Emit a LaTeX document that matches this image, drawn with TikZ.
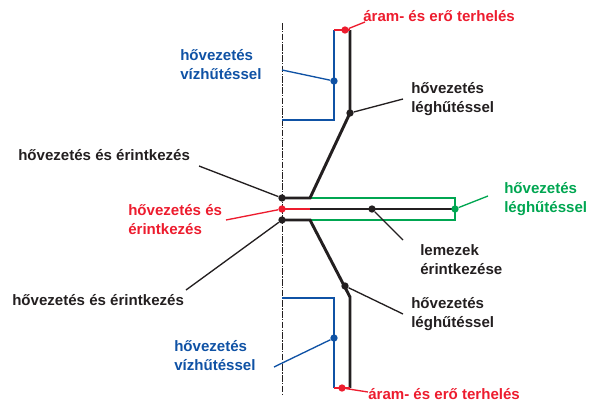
\documentclass[tikz,border=0pt]{standalone}
\usepackage{fontspec}
\setmainfont{Liberation Sans}
\usepackage{tikz}
\usetikzlibrary{positioning}
\definecolor{hblue}{HTML}{0F52A5}
\definecolor{hred}{HTML}{ED1C2E}
\definecolor{hgreen}{HTML}{00A651}
\definecolor{hblack}{HTML}{231F20}
\tikzset{
    lbl/.style={font=\fontsize{11.3}{14.25}\selectfont\bfseries, inner sep=0pt, align=left, anchor=west},
    wall/.style={line width=2.2pt, line join=miter},
    leader/.style={line width=1pt},
    dot/.style={circle, fill, inner sep=0pt, minimum size=5.5pt},
}

\begin{document}
\begin{tikzpicture}[x=0.75pt, y=-0.75pt]
    \useasboundingbox (0,0) rectangle (597,407);

    % axis
    \draw[hblack, line width=0.7pt, dash pattern=on 5pt off 1pt on 1pt off 1pt] (282,23) -- (282,395);

    % cooling
    \draw[wall, hblue] (282,120) -- (334,120) -- (334,30);
    \draw[wall, hblue] (282,298) -- (334,298) -- (334,388);
    \draw[wall, hgreen] (310,198) -- (455,198) -- (455,220) -- (310,220);

    % conductor
    \draw[wall, hblack] (350,30) -- (350,113) -- (310,198) -- (282,198);
    \draw[wall, hblack] (282,220) -- (310,220) -- (350,297) -- (350,388);
    \draw[wall, hblack] (310,209) -- (455,209);
    \draw[wall, hred] (282,209) -- (310,209);
    \draw[wall, hred] (334,30) -- (350,30);
    \draw[wall, hred] (334,388) -- (350,388);

    % points
    \node[dot, hred] (ptop) at (345,30) {};
    \node[dot, hblue] (wtop) at (334,81) {};
    \node[dot, hblack] (ltop) at (350,113) {};
    \node[dot, hblack] (ca) at (282,198) {};
    \node[dot, hred] (cb) at (282,209) {};
    \node[dot, hblack] (cc) at (282,220) {};
    \node[dot, hblack] (plate) at (372,209) {};
    \node[dot, hgreen] (lgreen) at (455,209) {};
    \node[dot, hblack] (lbot) at (345,286) {};
    \node[dot, hblue] (wbot) at (334,338) {};
    \node[dot, hred] (pbot) at (342,388) {};

    % labels
    \node[lbl, hred] (nptop) at (363,16) {áram- és erő terhelés};
    \node[lbl, hblue] (nwtop) at (180,65) {hővezetés\\vízhűtéssel};
    \node[lbl, hblack] (nltop) at (411,99) {hővezetés\\léghűtéssel};
    \node[lbl, hblack] (nca) at (18,155) {hővezetés és érintkezés};
    \node[lbl, hred] (ncb) at (128,220) {hővezetés és\\érintkezés};
    \node[lbl, hblack] (ncc) at (12,300) {hővezetés és érintkezés};
    \node[lbl, hgreen] (ngreen) at (504,199) {hővezetés\\léghűtéssel};
    \node[lbl, hblack] (nplate) at (420,260) {lemezek\\érintkezése};
    \node[lbl, hblack] (nlbot) at (411,314) {hővezetés\\léghűtéssel};
    \node[lbl, hblue] (nwbot) at (174,356) {hővezetés\\vízhűtéssel};
    \node[lbl, hred] (npbot) at (368,394) {áram- és erő terhelés};

    % free ends of the leaders
    \coordinate (eptop) at (365,22);
    \coordinate (ewtop) at (282,70);
    \coordinate (eltop) at (403,99);
    \coordinate (eca) at (199,166);
    \coordinate (ecb) at (226,220);
    \coordinate (ecc) at (186,290);
    \coordinate (egreen) at (488,196);
    \coordinate (eplate) at (403,240);
    \coordinate (elbot) at (403,314);
    \coordinate (ewbot) at (274,367);
    \coordinate (epbot) at (368,392);

    \draw[leader, hred] (ptop) -- (eptop);
    \draw[leader, hblue] (wtop) -- (ewtop);
    \draw[leader, hblack] (ltop) -- (eltop);
    \draw[leader, hblack] (ca) -- (eca);
    \draw[leader, hred] (cb) -- (ecb);
    \draw[leader, hblack] (cc) -- (ecc);
    \draw[leader, hgreen] (lgreen) -- (egreen);
    \draw[leader, hblack] (plate) -- (eplate);
    \draw[leader, hblack] (lbot) -- (elbot);
    \draw[leader, hblue] (wbot) -- (ewbot);
    \draw[leader, hred] (pbot) -- (epbot);
\end{tikzpicture}
\end{document}
